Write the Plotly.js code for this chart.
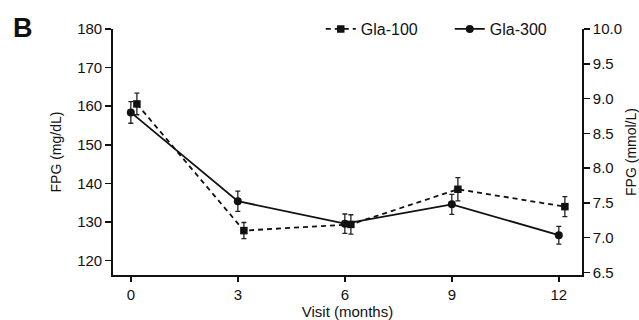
<!DOCTYPE html>
<html><head><meta charset="utf-8">
<script src="https://cdn.plot.ly/plotly-3.0.1.min.js"></script>
<style>html,body{margin:0;padding:0;background:#fff}#chart{width:639px;height:320px}</style>
</head><body><div id="chart"></div>
<script>
const months = [0, 3, 6, 9, 12];
const xTickLabels = ["0", "3", "6", "9", "12"];
const gla100 = [160.6, 127.8, 129.4, 138.5, 134.0];
const gla100Err = [2.8, 2.1, 2.5, 3.0, 2.6];
const gla300 = [158.4, 135.4, 129.6, 134.6, 126.6];
const gla300Err = [2.8, 2.6, 2.5, 2.6, 2.3];
const leftTicks = [120, 130, 140, 150, 160, 170, 180];
const rightTicks = [6.5, 7.0, 7.5, 8.0, 8.5, 9.0, 9.5, 10.0];
const MG_PER_MMOL = 18.0;

const dodge = 0.17;
const yRange = [116.3, 180];

const traces = [
  {
    x: months.map(m => m + dodge), y: gla100, name: "Gla-100", type: "scatter", mode: "lines+markers",
    line: {color: "#111", width: 1.8, dash: "5px,4px"},
    marker: {symbol: "square", size: 7.5, color: "#111"},
    error_y: {type: "data", array: gla100Err, visible: true, color: "#222", thickness: 1.3, width: 2.5}
  },
  {
    x: months, y: gla300, name: "Gla-300", type: "scatter", mode: "lines+markers",
    line: {color: "#111", width: 1.8},
    marker: {symbol: "circle", size: 8, color: "#111"},
    error_y: {type: "data", array: gla300Err, visible: true, color: "#222", thickness: 1.3, width: 2.5}
  },
  {
    x: [], y: [], yaxis: "y2", type: "scatter", mode: "markers", showlegend: false, hoverinfo: "skip"
  }
];

const fontFam = "Liberation Sans, Arial, sans-serif";
const layout = {
  width: 639, height: 320,
  margin: {l: 113, r: 57, t: 26, b: 45},
  paper_bgcolor: "#fff", plot_bgcolor: "#fff",
  font: {family: fontFam, size: 15, color: "#111"},
  showlegend: true,
  legend: {orientation: "h", x: 0.443, y: 1.0, xanchor: "left", yanchor: "middle",
           font: {size: 16, color: "#111"}, bgcolor: "rgba(0,0,0,0)", itemwidth: 30,
           entrywidth: 84},
  xaxis: {
    range: [-0.5, 12.65], tickvals: months, ticktext: xTickLabels,
    showline: true, linecolor: "#111", linewidth: 1.8, ticks: "outside", ticklen: 5, tickwidth: 1.5,
    tickcolor: "#111", showgrid: false, zeroline: false,
    title: {text: "Visit (months)", font: {size: 15}, standoff: 5}
  },
  yaxis: {
    range: yRange, tickvals: leftTicks,
    showline: true, linecolor: "#111", linewidth: 1.8, ticks: "outside", ticklen: 6, tickwidth: 1.5,
    tickcolor: "#111", showgrid: false, zeroline: false,
    title: {text: "FPG (mg/dL)", font: {size: 14}, standoff: 12}
  },
  yaxis2: {
    overlaying: "y", side: "right",
    range: yRange.map(v => v / MG_PER_MMOL), tickvals: rightTicks, tickformat: ".1f",
    showline: true, linecolor: "#111", linewidth: 1.8, ticks: "outside", ticklen: 6, tickwidth: 1.5,
    tickcolor: "#111", showgrid: false, zeroline: false,
    title: {text: "FPG (mmol/L)", font: {size: 14}, standoff: 6}
  },
  annotations: [
    {text: "<b>B</b>", xref: "paper", yref: "paper", x: 0, y: 1, xanchor: "left", yanchor: "middle",
     xshift: -102, yshift: 1, showarrow: false, font: {size: 27, color: "#111", family: fontFam}}
  ]
};

Plotly.newPlot("chart", traces, layout, {displayModeBar: false, staticPlot: true});
</script></body></html>
